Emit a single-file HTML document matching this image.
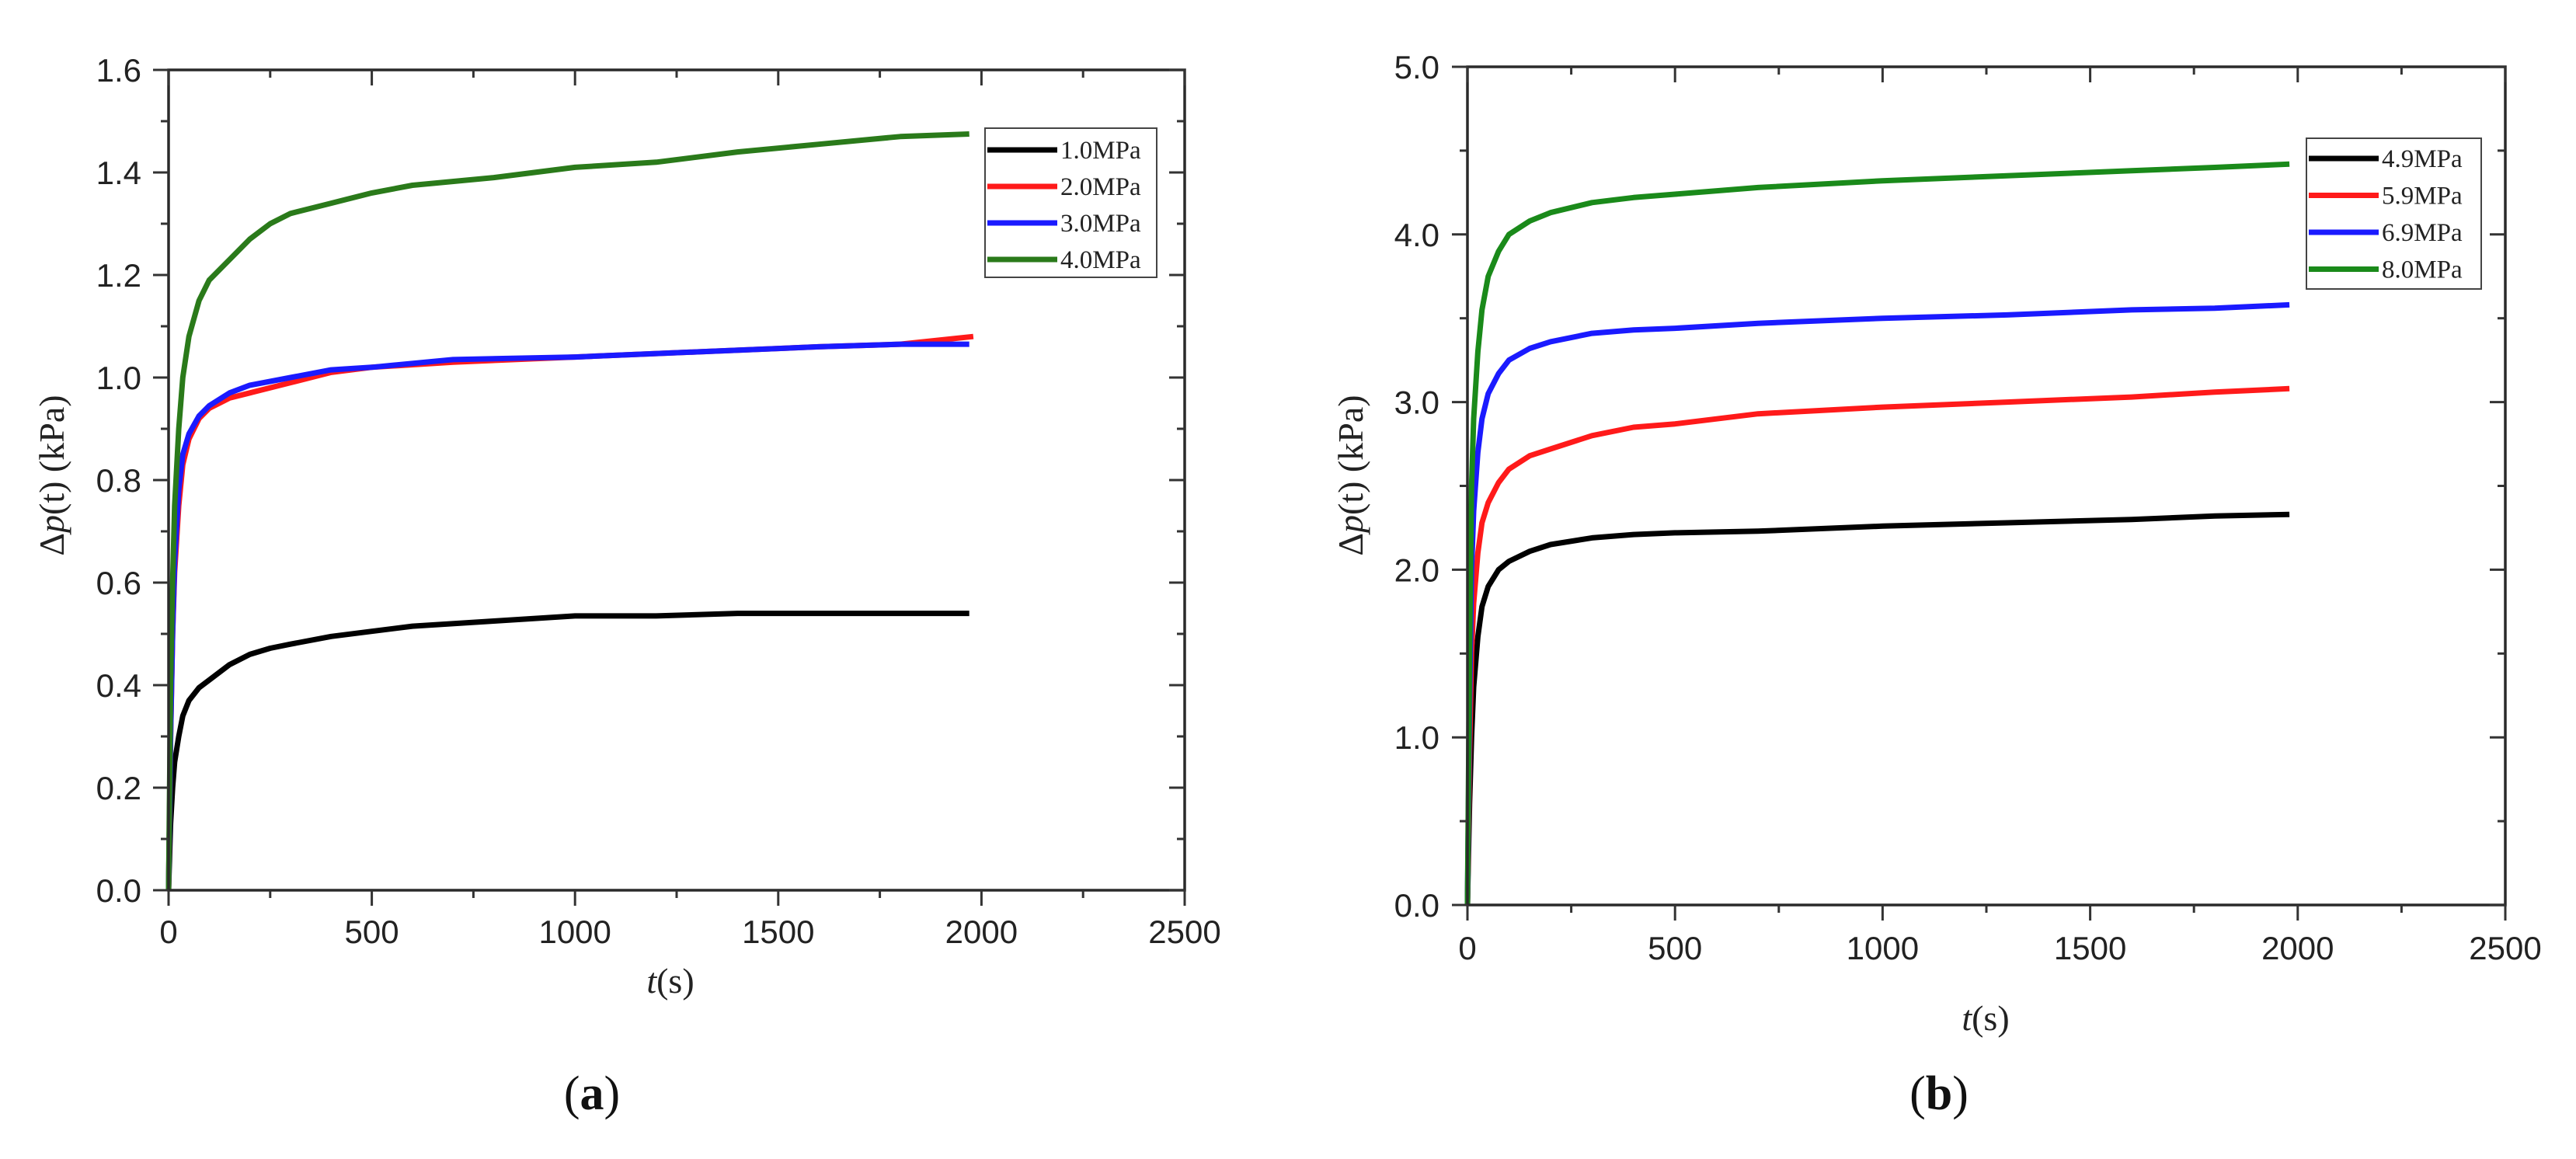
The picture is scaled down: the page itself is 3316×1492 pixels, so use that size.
<!DOCTYPE html>
<html><head><meta charset="utf-8"><style>
html,body{margin:0;padding:0;background:#fff;}
svg{display:block;}
</style></head><body>
<svg id="fig" width="3316" height="1492" viewBox="0 0 3316 1492" xmlns="http://www.w3.org/2000/svg"></svg>
<script>
// ---- data (a) ----
const tA_black = [0,5,10,15,25,35,50,75,100,150,200,250,300,400,500,600,800,1000,1200,1400,1600,1800,1970];
const vA_black = [0,0.13,0.2,0.25,0.3,0.34,0.37,0.395,0.41,0.44,0.46,0.472,0.48,0.495,0.505,0.515,0.525,0.535,0.535,0.54,0.54,0.54,0.54];
const tA_red = [0,5,10,15,25,35,50,75,100,150,200,300,400,500,700,1000,1300,1600,1800,1980];
const vA_red = [0,0.3,0.5,0.62,0.75,0.83,0.88,0.92,0.94,0.96,0.97,0.99,1.01,1.02,1.03,1.04,1.05,1.06,1.065,1.08];
const tA_blue = [0,5,10,15,25,35,50,75,100,150,200,300,400,500,700,1000,1300,1600,1800,1970];
const vA_blue = [0,0.3,0.5,0.64,0.78,0.85,0.89,0.925,0.945,0.97,0.985,1.0,1.015,1.02,1.035,1.04,1.05,1.06,1.065,1.065];
const tA_green = [0,5,10,15,25,35,50,75,100,150,200,250,300,400,500,600,800,1000,1200,1400,1600,1800,1970];
const vA_green = [0,0.4,0.6,0.75,0.9,1.0,1.08,1.15,1.19,1.23,1.27,1.30,1.32,1.34,1.36,1.375,1.39,1.41,1.42,1.44,1.455,1.47,1.475];
const legendA = ["1.0MPa","2.0MPa","3.0MPa","4.0MPa"];
const yTicksA = ["0.0","0.2","0.4","0.6","0.8","1.0","1.2","1.4","1.6"];
// ---- data (b) ----
const tB = [0,5,10,15,25,35,50,75,100,150,200,300,400,500,700,1000,1300,1600,1800,1980];
const vB_black = [0,0.6,1.0,1.3,1.6,1.78,1.9,2.0,2.05,2.11,2.15,2.19,2.21,2.22,2.23,2.26,2.28,2.30,2.32,2.33];
const vB_red = [0,0.9,1.5,1.8,2.1,2.28,2.4,2.52,2.6,2.68,2.72,2.8,2.85,2.87,2.93,2.97,3.0,3.03,3.06,3.08];
const vB_blue = [0,1.2,2.0,2.35,2.7,2.9,3.05,3.17,3.25,3.32,3.36,3.41,3.43,3.44,3.47,3.50,3.52,3.55,3.56,3.58];
const vB_green = [0,1.5,2.5,2.9,3.3,3.55,3.75,3.9,4.0,4.08,4.13,4.19,4.22,4.24,4.28,4.32,4.35,4.38,4.40,4.42];
const legendB = ["4.9MPa","5.9MPa","6.9MPa","8.0MPa"];
const yTicksB = ["0.0","1.0","2.0","3.0","4.0","5.0"];
const xTicks = ["0","500","1000","1500","2000","2500"];
const colors = ["#000000","#ff1a1a","#1a1aff","#2a7a1a"];
const colorsB = ["#000000","#ff1a1a","#1a1aff","#1a8a1a"];

const NS="http://www.w3.org/2000/svg";
const svg=document.getElementById('fig');
function mk(tag,attrs,parent){const e=document.createElementNS(NS,tag);for(const k in attrs)e.setAttribute(k,attrs[k]);(parent||svg).appendChild(e);return e;}

function panel(cfg){
  const g=mk('g',{});
  
  
  const {x0,x1,y0,y1,ymax,yminor}=cfg;
  const sx=v=>x0+(v/2500)*(x1-x0);
  const sy=v=>y0-(v/ymax)*(y0-y1);
  cfg.series.forEach((s,i)=>{
    const d=s.t.map((t,j)=>(j?'L':'M')+sx(t).toFixed(1)+','+sy(s.v[j]).toFixed(1)).join('');
    const p=mk('path',{d:d,fill:'none',stroke:s.c,'stroke-width':7,'stroke-linejoin':'round'},g);
    
    
  });
  const fr=mk('rect',{x:x0,y:y1,width:x1-x0,height:y0-y1,fill:'none',stroke:'#2a2a2a','stroke-width':3.5},g);
  
  
  for(let k=0;k<=10;k++){
    const v=k*250, X=sx(v), L=k%2?10:20;
    mk('line',{x1:X,x2:X,y1:y0,y2:y0+L,stroke:'#333','stroke-width':3},g);
    mk('line',{x1:X,x2:X,y1:y1,y2:y1+L,stroke:'#333','stroke-width':3},g);
  }
  xTicks.forEach((t,k)=>{
    const tx=mk('text',{x:sx(k*500),y:y0+cfg.xlabOff,'font-size':42,'text-anchor':'middle','font-family':'Liberation Sans, sans-serif',fill:'#222'},g);
    tx.textContent=t;
    
    
  });
  const nMinor=Math.round(ymax/yminor);
  for(let k=0;k<=nMinor;k++){
    const v=k*yminor, Y=sy(v), L=k%2?10:20;
    mk('line',{x1:x0-L,x2:x0,y1:Y,y2:Y,stroke:'#333','stroke-width':3},g);
    mk('line',{x1:x1-L,x2:x1,y1:Y,y2:Y,stroke:'#333','stroke-width':3},g);
  }
  cfg.yTicks.forEach((t,k)=>{
    const tx=mk('text',{x:cfg.ylabRight,y:sy(k*yminor*2)+15,'font-size':42,'text-anchor':'end','font-family':'Liberation Sans, sans-serif',fill:'#222'},g);
    tx.textContent=t;
    
    
  });
  const xt=mk('text',{x:cfg.xtx,y:cfg.xty,'font-size':46,'text-anchor':'middle','font-family':'Liberation Serif, serif',fill:'#222'},g);
  xt.innerHTML='<tspan font-style="italic">t</tspan>(s)';
  
  
  const yt=mk('text',{x:0,y:0,'font-size':46,'text-anchor':'middle','font-family':'Liberation Serif, serif',fill:'#222',transform:`translate(${cfg.ytx},${cfg.yty}) rotate(-90)`},g);
  yt.innerHTML='Δ<tspan font-style="italic">p</tspan>(t) (kPa)';
  
  
  const lg=mk('g',{},g);
  
  
  mk('rect',{x:cfg.lx,y:cfg.ly,width:cfg.lw,height:cfg.lh,fill:'#fff',stroke:'#444','stroke-width':2},lg);
  cfg.series.forEach((s,i)=>{
    const Y=cfg.ly+cfg.lfirst+i*cfg.lstep;
    mk('line',{x1:cfg.lx+3,x2:cfg.lx+93,y1:Y,y2:Y,stroke:s.c,'stroke-width':7},lg);
    const tx=mk('text',{x:cfg.lx+97,y:Y+11,'font-size':33,'font-family':'Liberation Serif, serif',fill:'#222'},lg);
    tx.textContent=s.label;
    
    
  });
  const pl=mk('text',{x:cfg.px,y:cfg.py,'font-size':62,'text-anchor':'middle','font-family':'Liberation Serif, serif',fill:'#111'},g);
  pl.innerHTML='(<tspan font-weight="bold">'+cfg.plabel+'</tspan>)';
  
  
}

panel({name:'chart-a',x0:217,x1:1525,y0:1146,y1:90,ymax:1.6,yminor:0.1,yTicks:yTicksA,
  xlabOff:68,ylabRight:182,xtx:863,xty:1278,ytx:82,yty:612,
  lx:1268,ly:165,lw:221,lh:192,lfirst:28,lstep:47,px:762,py:1428,plabel:'a',
  series:[{t:tA_black,v:vA_black,c:colors[0],label:legendA[0]},
          {t:tA_red,v:vA_red,c:colors[1],label:legendA[1]},
          {t:tA_blue,v:vA_blue,c:colors[2],label:legendA[2]},
          {t:tA_green,v:vA_green,c:colors[3],label:legendA[3]}]});
panel({name:'chart-b',x0:1889,x1:3225,y0:1165,y1:86,ymax:5.0,yminor:0.5,yTicks:yTicksB,
  xlabOff:70,ylabRight:1853,xtx:2556,xty:1326,ytx:1754,yty:612,
  lx:2969,ly:178,lw:225,lh:194,lfirst:26,lstep:47.5,px:2496,py:1428,plabel:'b',
  series:[{t:tB,v:vB_black,c:colorsB[0],label:legendB[0]},
          {t:tB,v:vB_red,c:colorsB[1],label:legendB[1]},
          {t:tB,v:vB_blue,c:colorsB[2],label:legendB[2]},
          {t:tB,v:vB_green,c:colorsB[3],label:legendB[3]}]});
</script>
</body></html>
